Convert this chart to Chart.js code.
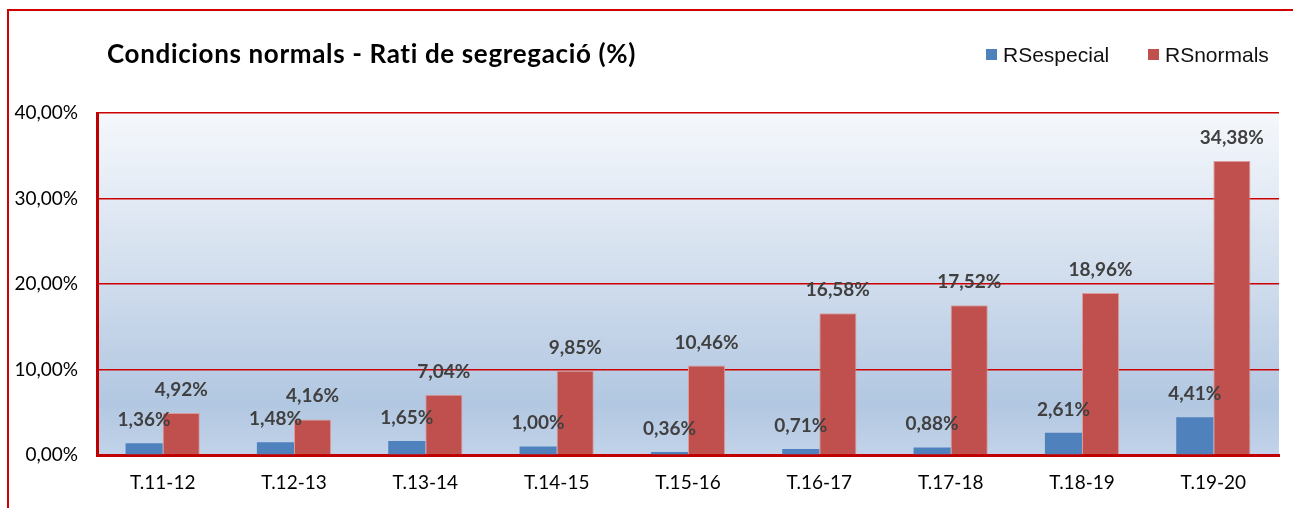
<!DOCTYPE html>
<html>
<head>
<meta charset="utf-8">
<script src="https://cdn.jsdelivr.net/npm/chart.js@4.4.1/dist/chart.umd.min.js"></script>
<style>
  html, body { margin: 0; padding: 0; background: #ffffff; overflow: hidden; }
  #wrap { position: relative; width: 1293px; height: 508px; }
  #frame { position: absolute; left: 7px; top: 9px; width: 1400px; height: 600px; border: 2px solid #d00000; box-sizing: border-box; }
  #c { position: absolute; left: 0; top: 0; }
  #title { position: absolute; left: 107px; top: 38px; font-family: Lato, sans-serif; font-weight: bold; font-size: 26px; line-height: 30px; letter-spacing: 0.65px; color: #000; white-space: nowrap; }
  #legend { position: absolute; top: 44px; left: 0; font-family: "Liberation Sans", Arial, sans-serif; font-size: 21px; line-height: 22px; color: #111; }
  .li { position: absolute; white-space: nowrap; }
  .sw { display: inline-block; width: 11px; height: 11px; margin-right: 6px; vertical-align: 2px; }
</style>
</head>
<body>
<div id="wrap">
  <div id="frame"></div>
  <canvas id="c" width="1293" height="508"></canvas>
  <div id="title">Condicions normals - Rati de segregació (%)</div>
  <div id="legend"></div>
</div>
<script>
const categories = ["T.11-12", "T.12-13", "T.13-14", "T.14-15", "T.15-16", "T.16-17", "T.17-18", "T.18-19", "T.19-20"];
const seriesNames = ["RSespecial", "RSnormals"];
const rsEspecial = [1.36, 1.48, 1.65, 1.00, 0.36, 0.71, 0.88, 2.61, 4.41];
const rsNormals = [4.92, 4.16, 7.04, 9.85, 10.46, 16.58, 17.52, 18.96, 34.38];
const yTickStep = 10;
const yMax = 40;
const seriesColors = ["#4f81bd", "#c0504d"];

function fmt(v) { return Number(v).toFixed(2).replace('.', ',') + '%'; }

// HTML legend built from data
const legendPos = [986, 1148];
const legendEl = document.getElementById('legend');
seriesNames.forEach((n, i) => {
  const d = document.createElement('div');
  d.className = 'li';
  d.style.left = legendPos[i] + 'px';
  d.innerHTML = '<span class="sw" style="background:' + seriesColors[i] + '"></span>' + n;
  legendEl.appendChild(d);
});

const bgPlugin = {
  id: 'plotBg',
  beforeDraw(chart) {
    const { ctx, chartArea: a } = chart;
    const g = ctx.createLinearGradient(0, a.top, 0, a.bottom);
    g.addColorStop(0, '#f5f8fc');
    g.addColorStop(0.45, '#d3dfee');
    g.addColorStop(0.85, '#b2c7e1');
    g.addColorStop(1, '#c2d3e9');
    ctx.save();
    ctx.fillStyle = g;
    ctx.fillRect(a.left, a.top, a.right - a.left, a.bottom - a.top);
    ctx.restore();
  }
};

const labelPlugin = {
  id: 'valLabels',
  afterDatasetsDraw(chart) {
    const ctx = chart.ctx;
    ctx.save();
    ctx.font = 'bold 19px Lato, sans-serif';
    ctx.fillStyle = '#404040';
    ctx.textAlign = 'center';
    ctx.textBaseline = 'alphabetic';
    chart.data.datasets.forEach((ds, di) => {
      const meta = chart.getDatasetMeta(di);
      meta.data.forEach((el, i) => {
        ctx.fillText(fmt(ds.data[i]), el.x, el.y - 17);
      });
    });
    ctx.restore();
  }
};

new Chart(document.getElementById('c'), {
  type: 'bar',
  data: {
    labels: categories,
    datasets: [
      { label: seriesNames[0], data: rsEspecial, backgroundColor: seriesColors[0], borderWidth: 0 },
      { label: seriesNames[1], data: rsNormals, backgroundColor: seriesColors[1], borderColor: '#dc9a98', borderWidth: 1 }
    ]
  },
  options: {
    responsive: false,
    animation: false,
    events: [],
    devicePixelRatio: 1,
    layout: { padding: { left: 0, top: 113, right: 14, bottom: 0 } },
    datasets: { bar: { categoryPercentage: 0.565, barPercentage: 1.0 } },
    plugins: {
      legend: { display: false },
      title: { display: false },
      tooltip: { enabled: false }
    },
    scales: {
      x: {
        grid: { display: false, drawTicks: false },
        border: { color: '#c00000', width: 3 },
        ticks: { color: '#000', font: { family: 'Lato', size: 19 }, padding: 16, maxRotation: 0 },
        afterFit(s) { s.height = 53; }
      },
      y: {
        min: 0, max: yMax,
        grid: { color: '#cc0000', lineWidth: 1.4, drawTicks: false },
        border: { color: '#c00000', width: 3 },
        ticks: { stepSize: yTickStep, color: '#000', font: { family: 'Lato', size: 19 }, padding: 19, callback: v => fmt(v) },
        afterFit(s) { s.width = 97; }
      }
    }
  },
  plugins: [bgPlugin, labelPlugin]
});
</script>
</body>
</html>
